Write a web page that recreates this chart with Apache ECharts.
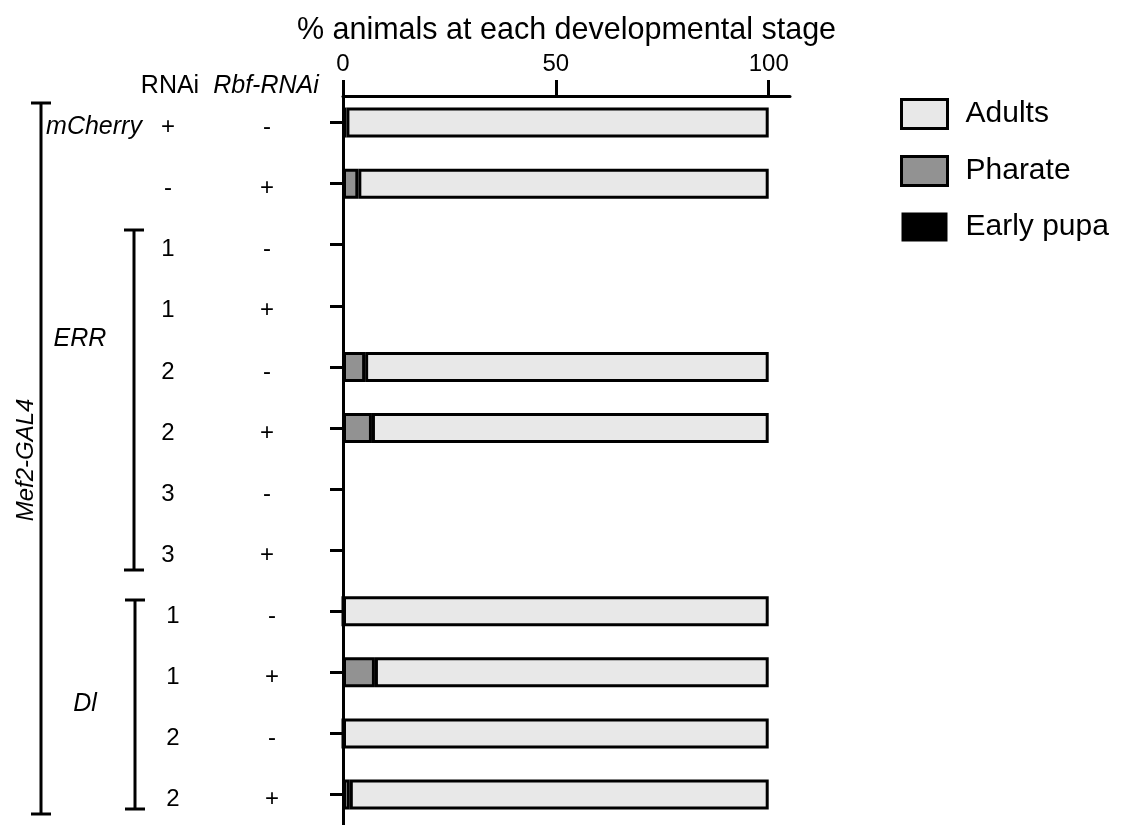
<!DOCTYPE html>
<html>
<head>
<meta charset="utf-8">
<script src="https://cdn.jsdelivr.net/npm/echarts@6/dist/echarts.min.js"></script>
<style>
html,body{margin:0;padding:0;background:#fff;}
#chart{width:1121px;height:825px;}
</style>
</head>
<body>
<div id="chart"></div>
<script>
const categories = ['mCherry + -', 'mCherry - +', 'ERR 1 -', 'ERR 1 +', 'ERR 2 -', 'ERR 2 +', 'ERR 3 -', 'ERR 3 +', 'Dl 1 -', 'Dl 1 +', 'Dl 2 -', 'Dl 2 +'];
const rnaiLabels = ['+', '-', '1', '1', '2', '2', '3', '3', '1', '1', '2', '2'];
const rbfLabels = ['-', '+', '-', '+', '-', '+', '-', '+', '-', '+', '-', '+'];
const earlyPupa = [0, 0, null, null, 0, 0, null, null, 0, 0, 0, 0];
const pharate = [0.8, 3.6, null, null, 5.2, 6.8, null, null, 0, 7.5, 0, 1.6];
const adults = [99.2, 96.4, null, null, 94.8, 93.2, null, null, 100, 92.5, 100, 98.4];
const xTicks = [0, 50, 100];

const FONT = 'Liberation Sans, Arial, sans-serif';
const chart = echarts.init(document.getElementById('chart'));

function labelRich(v, i) {
  return (i >= 8 ? '{d|' : '{n|') + v + '}';
}
const richStyle = {
  n: { fontSize: 24, fontFamily: FONT, color: '#000', padding: [10, 0, 0, 0] },
  d: { fontSize: 24, fontFamily: FONT, color: '#000', padding: [10, 0, 0, 10] }
};

const option = {
  animation: false,
  backgroundColor: '#fff',
  grid: { left: 343, right: 331, top: 92, bottom: -6, containLabel: false },
  legend: {
    orient: 'vertical',
    left: 895, top: 93,
    itemWidth: 46, itemHeight: 29,
    itemGap: 25,
    icon: 'rect',
    data: [
      { name: 'Adults', itemStyle: { borderWidth: 3, borderColor: '#000' } },
      { name: 'Pharate', itemStyle: { borderWidth: 3, borderColor: '#000' } },
      { name: 'Early pupa' }
    ],
    textStyle: { fontSize: 30, lineHeight: 30, fontFamily: FONT, color: '#000', padding: [0, 0, 0, 13] }
  },
  xAxis: {
    type: 'value', position: 'top', min: 0, max: 105, offset: -4,
    name: '% animals at each developmental stage',
    nameLocation: 'middle', nameGap: 50,
    nameTextStyle: { fontSize: 30.5, fontFamily: FONT, color: '#000' },
    splitLine: { show: false },
    axisLine: { show: true, lineStyle: { color: '#000', width: 3 } },
    axisTick: { show: true, length: 16, lineStyle: { color: '#000', width: 3 }, customValues: xTicks },
    axisLabel: { fontSize: 24, fontFamily: FONT, color: '#000', margin: 20, customValues: xTicks }
  },
  yAxis: [
    {
      type: 'category', position: 'left', inverse: true, data: categories,
      axisLine: { show: true, lineStyle: { color: '#000', width: 3 } },
      axisTick: { show: true, alignWithLabel: true, length: 13, lineStyle: { color: '#000', width: 3 } },
      axisLabel: { show: false }
    },
    {
      type: 'category', position: 'left', inverse: true, data: categories, offset: 175,
      axisLine: { show: false }, axisTick: { show: false },
      axisLabel: { align: 'center', margin: 0, formatter: (v, i) => labelRich(rnaiLabels[i], i), rich: richStyle }
    },
    {
      type: 'category', position: 'left', inverse: true, data: categories, offset: 76,
      axisLine: { show: false }, axisTick: { show: false },
      axisLabel: { align: 'center', margin: 0, formatter: (v, i) => labelRich(rbfLabels[i], i), rich: richStyle }
    }
  ],
  series: [
    {
      name: 'Early pupa', type: 'bar', stack: 'all', barWidth: 30, data: earlyPupa,
      itemStyle: { color: '#000', borderColor: '#000', borderWidth: 0 }
    },
    {
      name: 'Pharate', type: 'bar', stack: 'all', barWidth: 30, data: pharate,
      itemStyle: { color: '#929292', borderColor: '#000', borderWidth: 3 }
    },
    {
      name: 'Adults', type: 'bar', stack: 'all', barWidth: 30, data: adults,
      itemStyle: { color: '#e8e8e8', borderColor: '#000', borderWidth: 3 }
    }
  ]
};
chart.setOption(option);

const yOf = (i) => chart.convertToPixel({ yAxisIndex: 0 }, categories[i]);
const mid = (a, b) => (yOf(a) + yOf(b)) / 2;
const txt = (x, y, s, extra) => ({
  type: 'text', x: x, y: y,
  style: Object.assign({ text: s, fontSize: 25, fontFamily: FONT, fill: '#000', align: 'center', verticalAlign: 'middle' }, extra || {})
});
const line = (x1, y1, x2, y2) => ({ type: 'line', shape: { x1, y1, x2, y2 }, style: { stroke: '#000', lineWidth: 3 } });
const bracket = (x, y1, y2, half) => [line(x, y1, x, y2), line(x - half, y1, x + half, y1), line(x - half, y2, x + half, y2)];

const graphics = [
  txt(170, 86, 'RNAi'),
  txt(266, 86, 'Rbf-RNAi', { fontStyle: 'italic' }),
  txt(94, yOf(0) + 5, 'mCherry', { fontStyle: 'italic' }),
  txt(80, mid(3, 4) + 3, 'ERR', { fontStyle: 'italic' }),
  txt(85, mid(9, 10) + 1, 'Dl', { fontStyle: 'italic' }),
  { type: 'text', x: 26, y: 460, rotation: Math.PI / 2,
    style: { text: 'Mef2-GAL4', fontSize: 24, fontFamily: FONT, fontStyle: 'italic', fill: '#000', align: 'center', verticalAlign: 'middle' } }
].concat(bracket(41, 103, 814, 10), bracket(134, 230, 570, 10), bracket(135, 600, 809, 10));

chart.setOption({ graphic: graphics });
</script>
</body>
</html>
